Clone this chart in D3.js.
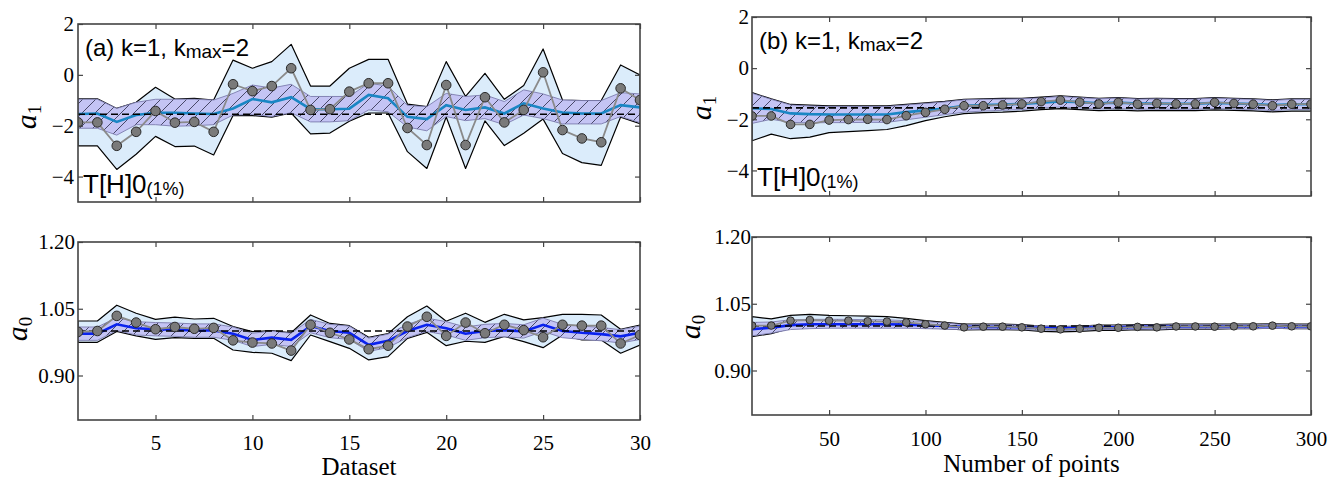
<!DOCTYPE html>
<html><head><meta charset="utf-8">
<script src="https://cdn.jsdelivr.net/npm/d3@7"></script>
<style>body{margin:0;background:#fff} svg{display:block}</style>
</head><body>
<svg id="chart" width="1341" height="479"></svg>
<script>
// ---------- categories ----------
const datasets = [1,2,3,4,5,6,7,8,9,10,11,12,13,14,15,16,17,18,19,20,21,22,23,24,25,26,27,28,29,30];
const npoints  = [10,20,30,40,50,60,70,80,90,100,110,120,130,140,150,160,170,180,190,200,210,220,230,240,250,260,270,280,290,300];

// ---------- tick labels ----------
const xTicksA = [5,10,15,20,25,30];
const xTicksB = [50,100,150,200,250,300];
const yTicksA1 = [-4,-2,0,2];
const yTicksA0 = [0.90,1.05,1.20];
const trueA1 = -1.55;
const trueA0 = 1.0;

// ---------- panel (a), a1 ----------
const a1Est_A   = [-1.87,-1.87,-2.79,-2.24,-1.42,-1.88,-1.85,-2.24,-0.37,-0.64,-0.44,0.26,-1.38,-1.35,-0.66,-0.33,-0.33,-2.09,-2.76,-0.40,-2.76,-0.88,-1.87,-1.38,0.10,-2.17,-2.50,-2.65,-0.53,-0.99];
const a1Mean_A  = [-1.54,-1.52,-1.85,-1.58,-1.49,-1.49,-1.52,-1.54,-1.32,-0.95,-1.08,-0.88,-1.35,-1.35,-1.33,-0.79,-0.92,-1.65,-1.74,-1.19,-1.38,-1.28,-1.52,-1.12,-1.32,-1.48,-1.52,-1.52,-1.19,-1.28];
const a1InU_A   = [-0.96,-0.96,-1.32,-1.08,-0.96,-0.96,-0.96,-0.99,-0.73,-0.40,-0.52,-0.37,-0.85,-0.85,-0.85,-0.33,-0.44,-1.20,-1.25,-0.73,-0.85,-0.79,-1.05,-0.59,-0.75,-0.99,-1.01,-1.01,-0.70,-0.75];
const a1InL_A   = [-2.10,-2.10,-2.37,-1.96,-1.96,-2.02,-2.00,-1.96,-1.58,-1.56,-1.64,-1.49,-1.85,-1.85,-1.80,-1.38,-1.45,-2.05,-2.20,-1.64,-1.80,-1.72,-1.96,-1.58,-1.72,-1.93,-1.93,-1.93,-1.64,-1.88];
const a1OutU_A  = [-0.94,-0.94,-1.32,-1.08,-0.49,-0.95,-0.92,-0.99,0.58,0.26,0.52,1.20,-0.44,-0.44,0.26,0.61,0.61,-1.15,-1.25,0.52,-0.85,0.06,-0.96,-0.42,1.02,-0.99,-1.01,-1.01,0.39,0.00];
const a1OutL_A  = [-2.79,-2.79,-3.72,-3.12,-2.42,-2.82,-2.80,-3.15,-1.60,-1.60,-1.66,-1.50,-2.32,-2.29,-1.82,-1.50,-1.50,-3.02,-3.68,-1.66,-3.68,-1.81,-2.78,-2.30,-1.74,-3.09,-3.45,-3.56,-1.66,-1.92];

// ---------- panel (a), a0 ----------
const a0Est_A   = [0.998,1.000,1.034,1.019,1.004,1.009,1.005,1.007,0.979,0.974,0.972,0.956,1.014,0.996,0.981,0.959,0.967,1.010,1.032,0.989,1.019,0.995,1.014,1.002,0.986,1.014,1.012,1.012,0.972,0.991];
const a0Mean_A  = [0.994,0.994,1.015,1.006,1.004,1.003,1.001,1.001,0.994,0.980,0.985,0.980,1.011,1.000,0.996,0.969,0.978,1.000,1.014,1.006,0.994,1.000,1.002,0.999,1.014,1.000,0.996,0.993,0.988,0.996];
const a0InU_A   = [1.009,1.009,1.030,1.021,1.019,1.018,1.016,1.016,1.009,0.995,1.000,0.995,1.026,1.015,1.011,0.984,0.993,1.015,1.029,1.021,1.009,1.015,1.017,1.014,1.029,1.015,1.011,1.008,1.003,1.011];
const a0InL_A   = [0.979,0.979,1.001,0.991,0.989,0.988,0.986,0.986,0.979,0.965,0.970,0.965,0.996,0.985,0.981,0.954,0.963,0.985,0.999,0.991,0.979,0.985,0.987,0.984,0.999,0.985,0.981,0.978,0.973,0.981];
const a0OutU_A  = [1.0225,1.0225,1.058,1.040,1.026,1.031,1.027,1.0285,1.010,0.9985,1.001,0.996,1.036,1.017,1.012,0.986,0.994,1.032,1.056,1.022,1.040,1.0195,1.0375,1.025,1.030,1.0375,1.0375,1.036,1.004,1.0135];
const a0OutL_A  = [0.9746,0.9746,0.999,0.989,0.981,0.985,0.9835,0.9835,0.9573,0.952,0.950,0.9333,0.991,0.976,0.961,0.935,0.9423,0.9835,0.997,0.967,0.977,0.9746,0.988,0.976,0.9626,0.991,0.980,0.980,0.950,0.9686];

// ---------- panel (b), a1 ----------
const a1Est_B   = [-1.87,-1.87,-2.20,-2.20,-2.03,-2.01,-2.00,-2.01,-1.86,-1.73,-1.61,-1.47,-1.47,-1.44,-1.40,-1.31,-1.25,-1.33,-1.40,-1.34,-1.41,-1.38,-1.40,-1.40,-1.34,-1.38,-1.41,-1.47,-1.41,-1.41];
const a1Mean_B  = [-1.57,-1.60,-1.77,-1.80,-1.81,-1.81,-1.81,-1.81,-1.72,-1.65,-1.58,-1.47,-1.44,-1.42,-1.40,-1.35,-1.30,-1.33,-1.37,-1.35,-1.38,-1.38,-1.39,-1.39,-1.36,-1.38,-1.40,-1.44,-1.41,-1.41];
const a1InU_B   = [-0.98,-1.22,-1.44,-1.48,-1.50,-1.50,-1.50,-1.50,-1.44,-1.38,-1.32,-1.24,-1.22,-1.21,-1.20,-1.16,-1.11,-1.15,-1.20,-1.17,-1.21,-1.20,-1.21,-1.21,-1.17,-1.20,-1.22,-1.26,-1.22,-1.22];
const a1InL_B   = [-2.16,-2.00,-2.12,-2.14,-2.13,-2.13,-2.12,-2.12,-2.02,-1.92,-1.82,-1.72,-1.68,-1.65,-1.62,-1.56,-1.52,-1.56,-1.60,-1.58,-1.61,-1.60,-1.61,-1.61,-1.58,-1.60,-1.62,-1.66,-1.62,-1.62];
const a1OutU_B  = [-0.96,-1.20,-1.42,-1.45,-1.47,-1.47,-1.47,-1.47,-1.42,-1.36,-1.30,-1.22,-1.20,-1.18,-1.18,-1.13,-1.08,-1.13,-1.18,-1.15,-1.19,-1.18,-1.19,-1.19,-1.15,-1.18,-1.20,-1.24,-1.20,-1.20];
const a1OutL_B  = [-2.84,-2.58,-2.76,-2.70,-2.52,-2.48,-2.44,-2.40,-2.25,-2.05,-1.90,-1.78,-1.74,-1.72,-1.68,-1.62,-1.58,-1.62,-1.66,-1.64,-1.67,-1.65,-1.66,-1.66,-1.63,-1.65,-1.67,-1.71,-1.68,-1.68];

// ---------- panel (b), a0 ----------
const a0Est_B   = [1.001,1.001,1.012,1.0135,1.012,1.012,1.0105,1.010,1.008,1.004,1.001,0.997,0.9985,0.9985,0.997,0.994,0.9925,0.994,0.996,0.996,0.998,0.997,0.999,0.999,0.9985,0.9993,0.9993,1.0008,0.9993,0.9993];
const a0Mean_B  = [0.993,0.996,1.002,1.004,1.004,1.004,1.004,1.004,1.003,1.002,1.000,0.998,0.998,0.998,0.997,0.996,0.995,0.996,0.997,0.997,0.998,0.998,0.999,0.999,0.999,0.999,0.999,1.000,0.999,0.999];
const a0InU_B   = [1.008,1.009,1.014,1.015,1.015,1.015,1.014,1.014,1.012,1.010,1.007,1.003,1.003,1.003,1.002,1.000,0.999,1.000,1.001,1.001,1.002,1.002,1.003,1.003,1.003,1.003,1.003,1.004,1.003,1.003];
const a0InL_B   = [0.978,0.984,0.992,0.994,0.995,0.995,0.995,0.995,0.995,0.994,0.993,0.992,0.993,0.993,0.992,0.991,0.990,0.991,0.992,0.992,0.993,0.993,0.994,0.994,0.994,0.994,0.994,0.995,0.994,0.994];
const a0OutU_B  = [1.021,1.016,1.024,1.026,1.024,1.023,1.022,1.021,1.017,1.012,1.008,1.004,1.004,1.004,1.003,1.000,0.998,1.000,1.002,1.002,1.003,1.003,1.004,1.004,1.004,1.004,1.004,1.005,1.004,1.004];
const a0OutL_B  = [0.976,0.983,0.995,0.998,0.999,0.999,0.999,0.999,0.998,0.996,0.994,0.991,0.992,0.992,0.991,0.988,0.987,0.988,0.990,0.990,0.992,0.991,0.993,0.993,0.993,0.994,0.994,0.995,0.994,0.994];

// ---------- drawing ----------
const svg = d3.select('#chart');
const SERIF = "'Liberation Serif','Times New Roman',serif";
const SANS = "'Liberation Sans',Arial,Helvetica,sans-serif";
const defs = svg.append('defs');
const HS = 13;
const pat = defs.append('pattern').attr('id','hatch').attr('patternUnits','userSpaceOnUse')
  .attr('width',HS).attr('height',HS);
pat.append('rect').attr('width',HS).attr('height',HS).attr('fill','#c4c4f4');
pat.append('path').attr('d',`M0,${HS} L${HS},0 M-4,4 L4,-4 M${HS-4},${HS+4} L${HS+4},${HS-4}`)
  .attr('stroke','#3a3a58').attr('stroke-width',0.9);

let clipId = 0;
function panel(o) {
  const x = d3.scaleLinear().domain(o.xDomain).range([o.left, o.right]);
  const y = d3.scaleLinear().domain(o.yDomain).range([o.bottom, o.top]);
  const g = svg.append('g');
  const cid = 'clip' + (clipId++);
  defs.append('clipPath').attr('id', cid).append('rect')
    .attr('x', o.left).attr('y', o.top).attr('width', o.right - o.left).attr('height', o.bottom - o.top);
  const plot = g.append('g').attr('clip-path', `url(#${cid})`);
  const xs = o.xs;
  const band = (U, L) => d3.area().x((d, i) => x(xs[i])).y0((d, i) => y(L[i])).y1((d, i) => y(U[i]))(xs);
  const line = (V) => d3.line().x((d, i) => x(xs[i])).y((d, i) => y(V[i]))(xs);

  plot.append('path').attr('d', band(o.outU, o.outL)).attr('fill', '#dbecfb')
    .attr('stroke', '#000').attr('stroke-width', 1.2).attr('stroke-linejoin','round');
  plot.append('path').attr('d', band(o.inU, o.inL)).attr('fill', 'url(#hatch)')
    .attr('stroke', '#7c7cae').attr('stroke-width', 0.9);
  plot.append('path').attr('d', line(o.mean)).attr('fill', 'none')
    .attr('stroke', o.meanColor).attr('stroke-width', 2.6);
  plot.append('line').attr('x1', o.left).attr('x2', o.right)
    .attr('y1', y(o.truth)).attr('y2', y(o.truth))
    .attr('stroke', '#000').attr('stroke-width', 1.7).attr('stroke-dasharray', '7,4');
  plot.append('path').attr('d', line(o.est)).attr('fill', 'none')
    .attr('stroke', '#8a8a8a').attr('stroke-width', 1.8);
  plot.selectAll('circle.pt').data(xs).join('circle').attr('class','pt')
    .attr('cx', (d) => x(d)).attr('cy', (d, i) => y(o.est[i])).attr('r', o.r)
    .attr('fill', '#7a7a7a').attr('stroke', '#2a2a2a').attr('stroke-width', 1);

  // axes with inward ticks on all four sides
  const styleAxis = (sel) => {
    sel.select('.domain').remove();
    sel.selectAll('.tick line').attr('stroke', '#444').attr('stroke-width', 1.2);
    sel.selectAll('.tick text').attr('fill', '#000').style('font-family', SERIF).style('font-size', '21px');
  };
  g.append('g').attr('transform', `translate(0,${o.bottom})`)
    .call(d3.axisBottom(x).tickValues(o.xTicks).tickSize(-5).tickPadding(o.xPad)
      .tickFormat(o.xLabels ? d3.format('d') : () => ''))
    .call(styleAxis);
  g.append('g').attr('transform', `translate(0,${o.top})`)
    .call(d3.axisTop(x).tickValues(o.xTicks).tickSize(-5).tickFormat(() => ''))
    .call(styleAxis);
  g.append('g').attr('transform', `translate(${o.left},0)`)
    .call(d3.axisLeft(y).tickValues(o.yTicks).tickSize(-5).tickPadding(o.yPad).tickFormat(o.yFmt))
    .call(styleAxis);
  g.append('g').attr('transform', `translate(${o.right},0)`)
    .call(d3.axisRight(y).tickValues(o.yTicks).tickSize(-5).tickFormat(() => ''))
    .call(styleAxis);
  g.append('rect').attr('x', o.left).attr('y', o.top).attr('width', o.right - o.left)
    .attr('height', o.bottom - o.top).attr('fill', 'none').attr('stroke', '#444').attr('stroke-width', 1.6);

  // y title
  const yt = g.append('text').attr('transform', `translate(${o.yTitleX},${o.yTitleY}) rotate(-90)`)
    .attr('text-anchor', 'middle').style('font-family', SERIF).style('font-size', '30px');
  yt.append('tspan').style('font-style', 'italic').text('a');
  yt.append('tspan').attr('dy', 5).style('font-size', '19px').text(o.ySub);

  if (o.label) {
    const t = g.append('text').attr('x', o.left + 7).attr('y', o.top + 32)
      .style('font-family', SANS).style('font-size', '24px').attr('fill', '#000');
    t.append('tspan').text(o.label);
    t.append('tspan').attr('dy', 2).style('font-size', '19px').text('max');
    t.append('tspan').attr('dy', -2).text('=2');
  }
  if (o.sample) {
    const t = g.append('text').attr('x', o.left + 5).attr('y', o.top + 169)
      .style('font-family', SANS).style('font-size', '26px').attr('fill', '#000');
    t.append('tspan').text('T[H]0');
    t.append('tspan').attr('dy', 2).style('font-size', '18px').text('(1%)');
  }
  if (o.xTitle) {
    g.append('text').attr('x', (o.left + o.right) / 2).attr('y', o.xTitleY).attr('text-anchor', 'middle')
      .style('font-family', SERIF).style('font-size', '25px').text(o.xTitle);
  }
}

const fA1 = (d) => d < 0 ? '\u2212' + Math.abs(d) : String(d);
const fA0 = d3.format('.2f');

panel({left:78, right:640, top:24, bottom:202, xDomain:[1,30], yDomain:[-5,2], xs:datasets,
  outU:a1OutU_A, outL:a1OutL_A, inU:a1InU_A, inL:a1InL_A, mean:a1Mean_A, est:a1Est_A, truth:trueA1,
  meanColor:'#1a86c4', xTicks:xTicksA, yTicks:yTicksA1, yFmt:fA1, xLabels:false, xPad:15, yPad:4, r:4.8,
  yTitleX:36, yTitleY:117, ySub:'1', label:'(a) k=1, k', sample:true});
panel({left:78, right:640, top:242, bottom:420, xDomain:[1,30], yDomain:[0.8,1.2], xs:datasets,
  outU:a0OutU_A, outL:a0OutL_A, inU:a0InU_A, inL:a0InL_A, mean:a0Mean_A, est:a0Est_A, truth:trueA0,
  meanColor:'#0a22ee', xTicks:xTicksA, yTicks:yTicksA0, yFmt:fA0, xLabels:true, xPad:15, yPad:3, r:4.8,
  yTitleX:27, yTitleY:329, ySub:'0', xTitle:'Dataset', xTitleY:475});
panel({left:752, right:1311, top:17, bottom:196, xDomain:[10,300], yDomain:[-5,2], xs:npoints,
  outU:a1OutU_B, outL:a1OutL_B, inU:a1InU_B, inL:a1InL_B, mean:a1Mean_B, est:a1Est_B, truth:trueA1,
  meanColor:'#1a86c4', xTicks:xTicksB, yTicks:yTicksA1, yFmt:fA1, xLabels:false, xPad:15, yPad:3, r:4.3,
  yTitleX:711, yTitleY:108, ySub:'1', label:'(b) k=1, k', sample:true});
panel({left:752, right:1311, top:237, bottom:415, xDomain:[10,300], yDomain:[0.8,1.2], xs:npoints,
  outU:a0OutU_B, outL:a0OutL_B, inU:a0InU_B, inL:a0InL_B, mean:a0Mean_B, est:a0Est_B, truth:trueA0,
  meanColor:'#0a22ee', xTicks:xTicksB, yTicks:yTicksA0, yFmt:fA0, xLabels:true, xPad:16, yPad:1, r:3.8,
  yTitleX:700, yTitleY:327, ySub:'0', xTitle:'Number of points', xTitleY:472});
</script>
</body></html>
